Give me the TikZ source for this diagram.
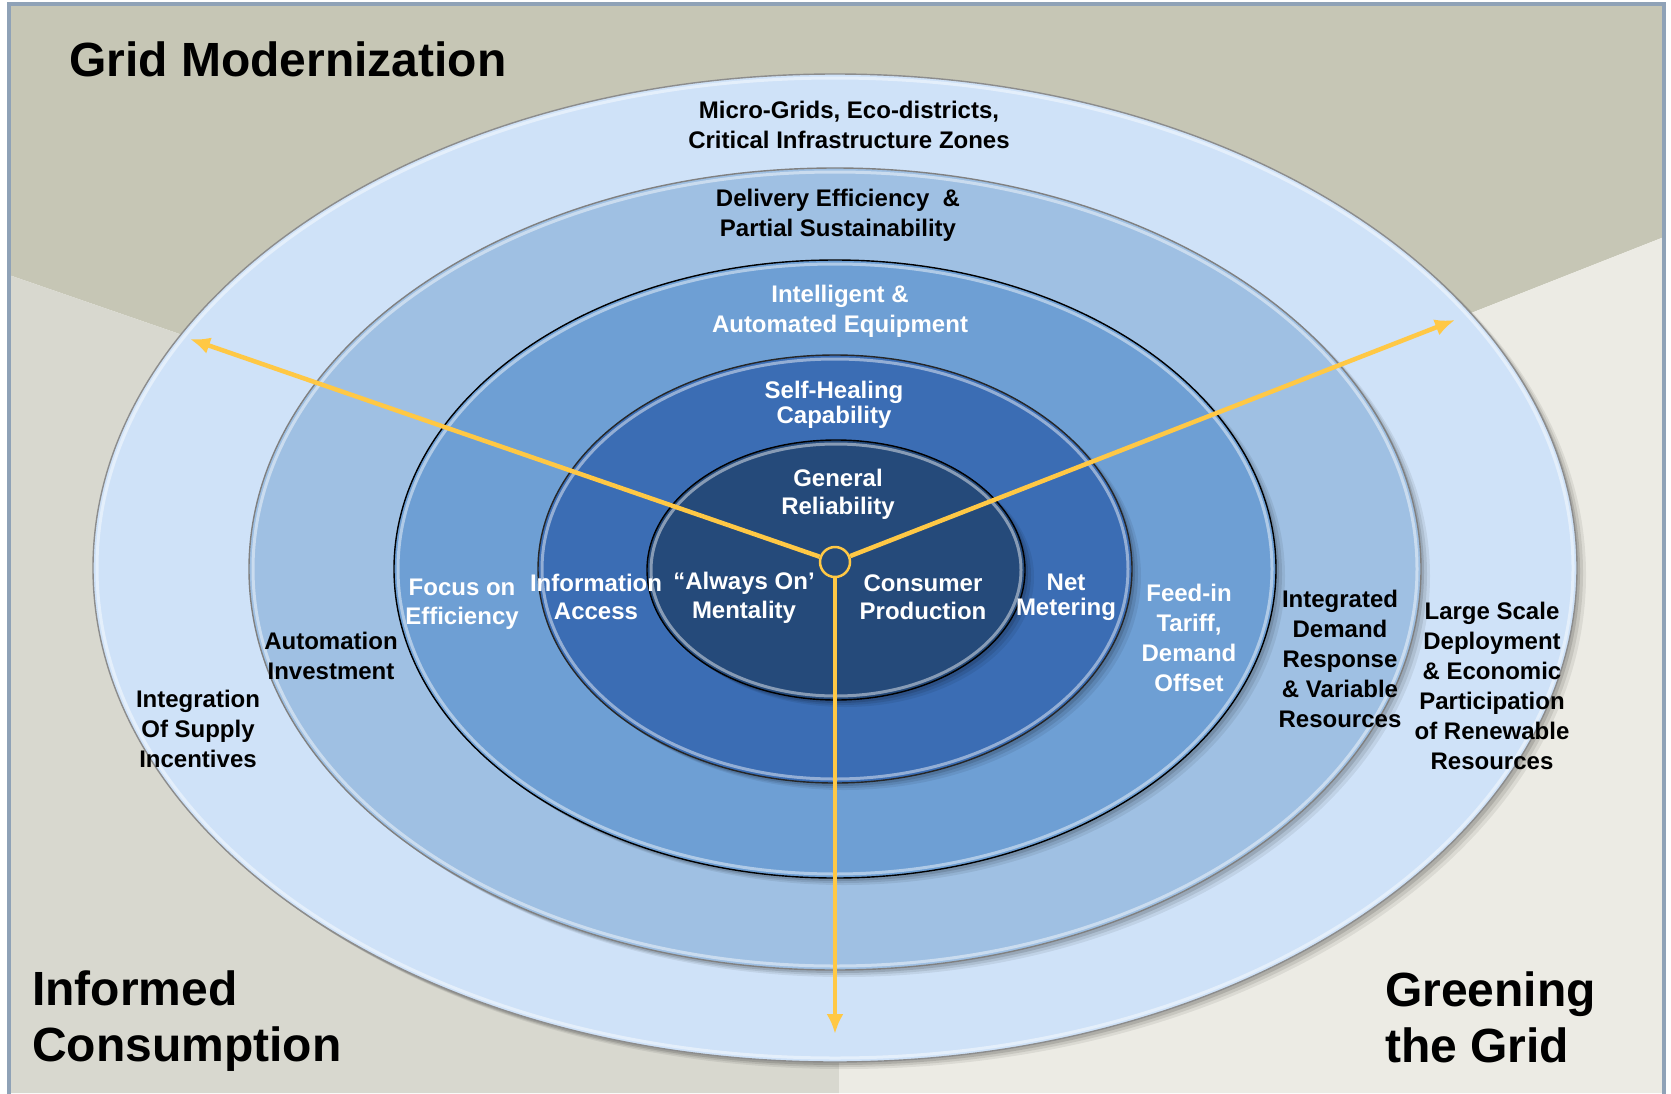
\documentclass[tikz,border=0pt]{standalone}
\usepackage{fontspec}
\setmainfont{Liberation Sans}
\usetikzlibrary{arrows.meta}
\definecolor{frameC}{HTML}{8FA2B7}
\definecolor{bgTop}{HTML}{C6C6B5}
\definecolor{bgLeft}{HTML}{D8D8CF}
\definecolor{bgRight}{HTML}{ECEBE4}
\definecolor{ringA}{HTML}{CFE2F8}
\definecolor{ringB}{HTML}{9FC0E3}
\definecolor{ringC}{HTML}{6E9FD4}
\definecolor{ringD}{HTML}{3B6DB4}
\definecolor{ringE}{HTML}{254A7A}
\definecolor{arrowY}{HTML}{FFC845}
\newcommand\myring[6]{%
  \fill[black,opacity=.07] (#1+9,#2+7) ellipse[x radius=#3, y radius=#4];
  \fill[black,opacity=.09] (#1+6,#2+5) ellipse[x radius=#3, y radius=#4];
  \fill[black,opacity=.12] (#1+3,#2+3) ellipse[x radius=#3, y radius=#4];
  \fill[#5] (#1,#2) ellipse[x radius=#3, y radius=#4];
  \draw[white,opacity=.45,line width=3pt] (#1,#2) ellipse[x radius=#3-4, y radius=#4-4];
  \draw[#6,line width=1.4pt] (#1,#2) ellipse[x radius=#3, y radius=#4];
}
\begin{document}
\begin{tikzpicture}[x=1pt,y=-1pt,
  lab/.style={align=center,inner sep=0pt,font=\fontsize{24}{30}\selectfont\bfseries},
  wlab/.style={lab,text=white},
  blab/.style={lab,text=black},
  title/.style={align=left,anchor=west,inner sep=0pt,font=\fontsize{48}{56}\selectfont\bfseries},
  arr/.style={arrowY,line width=4.5pt,-{Latex[length=20pt,width=17pt]}},
  hub/.style={circle,minimum size=30pt,inner sep=0pt,fill=ringE,draw=arrowY,line width=2.5pt}]
\useasboundingbox (0,0) rectangle (1671,1093);
\fill[white] (0,0) rectangle (1671,1093);
% background sectors
\coordinate (C) at (839,562);
\fill[bgTop] (9,4) -- (1664,4) -- (1664,237) -- (C) -- (9,275) -- cycle;
\fill[bgLeft] (9,275) -- (C) -- (839,1093) -- (9,1093) -- cycle;
\fill[bgRight] (839,1093) -- (C) -- (1664,237) -- (1664,1093) -- cycle;
\draw[frameC,line width=3.5pt] (9,1100) -- (9,4) -- (1664,4) -- (1664,1100);
% rings
\myring{835}{568}{742}{494}{ringA}{black!45}
\myring{835}{569}{586}{401}{ringB}{black!50}
\myring{835}{569}{441}{309}{ringC}{black}
\myring{835}{569}{297}{214}{ringD}{black!85}
\myring{836}{570}{189}{130}{ringE}{black}
% titles
\node[title] (gm) at (69,59) {Grid Modernization};
\node[title] (ic) at (32,1021) {Informed\\Consumption};
\node[title] (gg) at (1385,1017) {Greening\\the Grid};
% labels
\node[blab] (l1) at (849,125) {Micro-Grids, Eco-districts,\\Critical Infrastructure Zones};
\node[blab] (l2) at (838,215) {Delivery Efficiency\ \ \&\\Partial Sustainability};
\node[wlab] (l3) at (840,311) {Intelligent \&\\Automated Equipment};
\node[wlab,font=\fontsize{24}{25}\selectfont\bfseries] (l4) at (834,405) {Self-Healing\\Capability};
\node[wlab,font=\fontsize{24}{28}\selectfont\bfseries] (l5) at (838,494) {General\\Reliability};
\node[wlab,font=\fontsize{24}{29}\selectfont\bfseries] (l6) at (744,598) {“Always On’\\Mentality};
\node[wlab,font=\fontsize{24}{28}\selectfont\bfseries] (l7) at (923,597) {Consumer\\Production};
\node[wlab,font=\fontsize{24}{28}\selectfont\bfseries] (l8) at (596,597) {Information\\Access};
\node[wlab,font=\fontsize{24}{25}\selectfont\bfseries] (l9) at (1066,597) {Net\\Metering};
\node[wlab,font=\fontsize{24}{29}\selectfont\bfseries] (l10) at (462,604) {Focus on\\Efficiency};
\node[wlab] (l11) at (1189,638) {Feed-in\\Tariff,\\Demand\\Offset};
\node[blab] (l12) at (331,656) {Automation\\Investment};
\node[blab] (l13) at (1340,659) {Integrated\\Demand\\Response\\\& Variable\\Resources};
\node[blab] (l14) at (198,729) {Integration\\Of Supply\\Incentives};
\node[blab] (l15) at (1492,686) {Large Scale\\Deployment\\\& Economic\\Participation\\of Renewable\\Resources};
% hub and arrows
\node[hub] (c) at (835,562) {};
\coordinate (ul) at (190,339);
\coordinate (ur) at (1455,320);
\coordinate (dn) at (835,1034);
\draw[arr] (c) -- (ul);
\draw[arr] (c) -- (ur);
\draw[arr] (c) -- (dn);
\end{tikzpicture}
\end{document}
